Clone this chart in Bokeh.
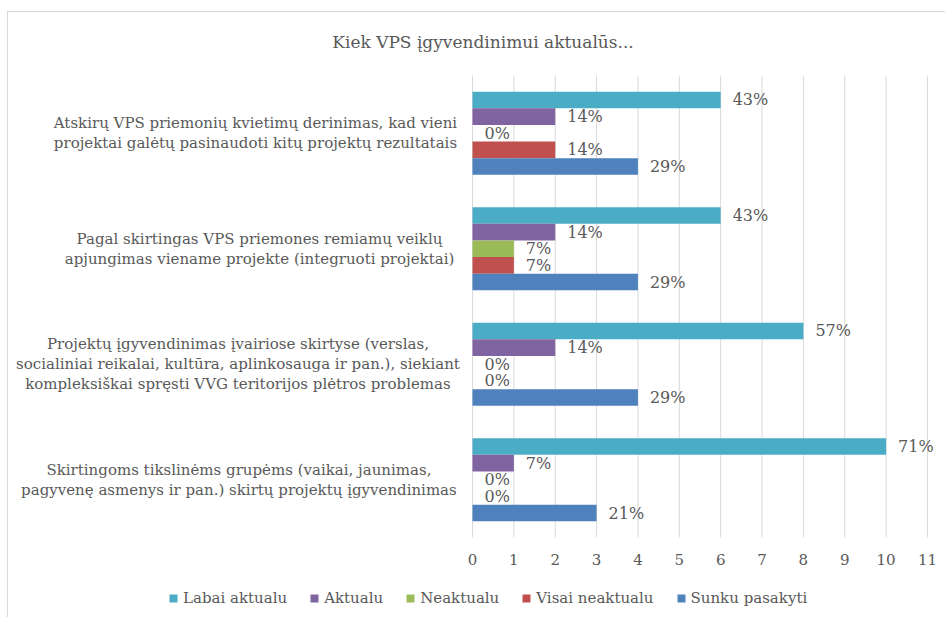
from bokeh.plotting import figure
from bokeh.models import Range1d, Legend, LegendItem, ColumnDataSource
from bokeh.core.properties import value
from bokeh.embed import file_html
from bokeh.resources import INLINE

# ---------------- data ----------------
categories = [
    "Atskirų VPS priemonių kvietimų derinimas, kad vieni\nprojektai galėtų pasinaudoti kitų projektų rezultatais",
    "Pagal skirtingas VPS priemones remiamų veiklų\napjungimas viename projekte (integruoti projektai)",
    "Projektų įgyvendinimas įvairiose skirtyse (verslas,\nsocialiniai reikalai, kultūra, aplinkosauga ir pan.), siekiant\nkompleksiškai spręsti VVG teritorijos plėtros problemas",
    "Skirtingoms tikslinėms grupėms (vaikai, jaunimas,\npagyvenę asmenys ir pan.) skirtų projektų įgyvendinimas",
]
series_names = ["Labai aktualu", "Aktualu", "Neaktualu", "Visai neaktualu", "Sunku pasakyti"]
labai = [6, 6, 8, 10]
aktualu = [2, 2, 2, 1]
neaktualu = [0, 1, 0, 0]
visai = [2, 1, 0, 0]
sunku = [4, 4, 4, 3]
labai_lbl = ["43%", "43%", "57%", "71%"]
aktualu_lbl = ["14%", "14%", "14%", "7%"]
neaktualu_lbl = ["0%", "7%", "0%", "0%"]
visai_lbl = ["14%", "7%", "0%", "0%"]
sunku_lbl = ["29%", "29%", "29%", "21%"]
x_ticks = list(range(0, 12))
x_tick_labels = [str(t) for t in x_ticks]
title_text = "Kiek VPS įgyvendinimui aktualūs..."

series_values = [labai, aktualu, neaktualu, visai, sunku]
series_labels = [labai_lbl, aktualu_lbl, neaktualu_lbl, visai_lbl, sunku_lbl]
colors = ["#4BACC6", "#8064A2", "#9BBB59", "#C0504D", "#4F81BD"]

FONT = "DejaVu Serif"
TXT = "#595959"
GRID = "#D9D9D9"

n = len(categories)
W, H = 938, 606
UX = 41.36          # px per x unit
UY = 115.5          # px per category
ZERO_X = 464        # canvas px of x = 0
TOP, BOTTOM = 63, 525   # canvas px of plot area
x_range = Range1d(-ZERO_X / UX, (W - ZERO_X) / UX)
y_range = Range1d(-(H - BOTTOM) / UY, n + TOP / UY)

p = figure(width=W, height=H, output_backend="svg", toolbar_location=None,
           x_range=x_range, y_range=y_range,
           min_border_left=0, min_border_right=0,
           min_border_top=0, min_border_bottom=0,
           styles={"border-top": "1px solid #D9D9D9", "border-left": "1px solid #D9D9D9",
                   "margin-top": "11px", "margin-left": "7px"})
p.outline_line_color = None
p.background_fill_color = "white"
p.border_fill_color = "white"
p.xaxis.visible = False
p.yaxis.visible = False
p.grid.visible = False

# vertical gridlines at the axis ticks, spanning the plot area
p.segment(x0=x_ticks, y0=[0] * len(x_ticks), x1=x_ticks, y1=[n] * len(x_ticks),
          line_color=GRID, line_width=1)
# axis tick labels
p.text(x=x_ticks, y=[-22 / UY] * len(x_ticks), text=x_tick_labels,
       text_align="center", text_baseline="middle",
       text_font=value(FONT), text_font_size="15px", text_color=TXT)

bar_h = 0.144
centers = [n - 0.5 - i for i in range(n)]
legend_items = []
for k, (name, vals, lbls, col) in enumerate(zip(series_names, series_values, series_labels, colors)):
    off = (2 - k) * bar_h
    ys = [c + off for c in centers]
    src = ColumnDataSource(dict(y=ys, right=vals, lbl=lbls))
    r = p.hbar(y="y", left=0, right="right", height=bar_h, source=src,
               fill_color=col, line_color=None)
    p.text(x="right", y="y", text="lbl", source=src, x_offset=12,
           text_align="left", text_baseline="middle",
           text_font=value(FONT), text_font_size="16px", text_color=TXT)
    legend_items.append(LegendItem(label=name, renderers=[r]))

# category labels (centered multi-line)
label_cx = [-5.247, -5.150, -5.671, -5.647]
cat_src = ColumnDataSource(dict(x=label_cx, y=centers, t=categories))
p.text(x="x", y="y", text="t", source=cat_src, text_align="center",
       text_baseline="middle", text_font=value(FONT), text_font_size="15px",
       text_color=TXT, text_line_height=1.1)

# chart title
p.text(x=[10.5 / UX], y=[n + 34 / UY], text=[title_text],
       text_align="center", text_baseline="middle",
       text_font=value(FONT), text_font_size="17px", text_color=TXT)

legend = Legend(items=legend_items, orientation="horizontal", location=(160, 11),
                glyph_width=10, glyph_height=10, label_standoff=5, spacing=22,
                padding=0, margin=0, border_line_color=None, background_fill_alpha=0,
                label_text_font=FONT, label_text_font_size="15px", label_text_color=TXT)
p.add_layout(legend, "center")

open("out.html", "w").write(file_html(p, INLINE))
